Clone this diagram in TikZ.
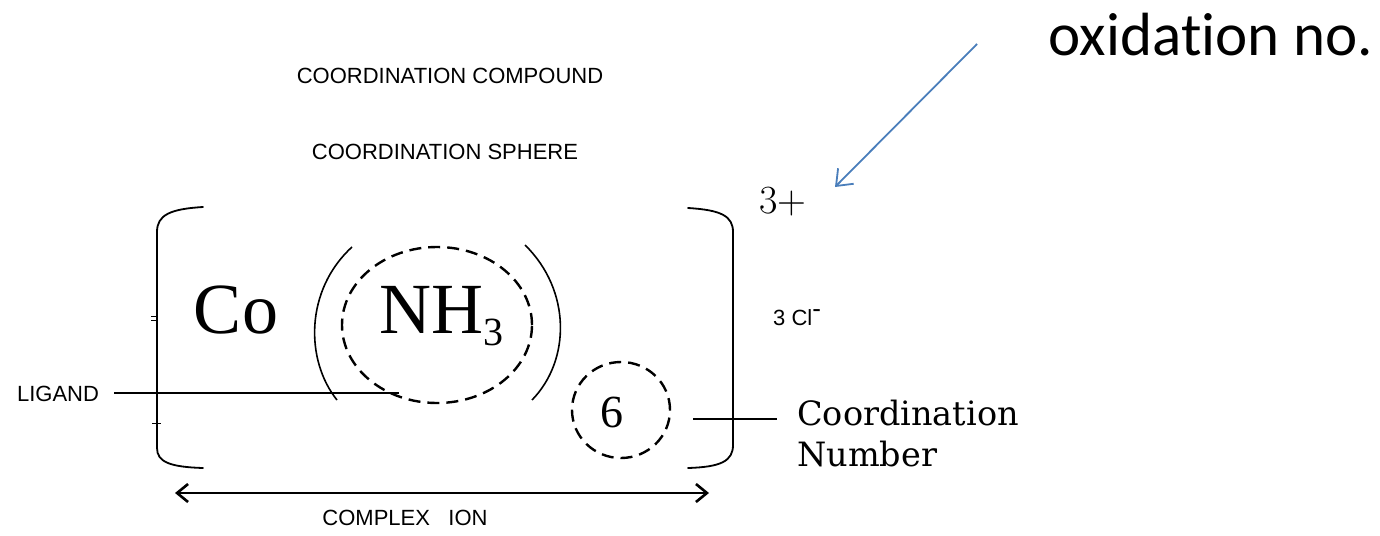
\documentclass[tikz,border=0pt]{standalone}
\usepackage{fontspec}
\newfontfamily\tnr{Liberation Serif}
\newfontfamily\arialf{Liberation Sans}
\newfontfamily\calib[RawFeature={-liga;-clig;-calt;-dlig}]{Carlito}
\newfontfamily\dejaser{DejaVu Serif}
\usetikzlibrary{shapes.geometric,arrows.meta}
\definecolor{oxblue}{HTML}{4A7EBB}
\begin{document}
\begin{tikzpicture}[x=1pt,y=-1pt,
  caps/.style={font=\arialf\fontsize{22}{26}\selectfont, inner sep=0pt},
  bigserif/.style={font=\tnr\fontsize{72}{80}\selectfont, inner sep=0pt},
  brk/.style={line width=1.8pt, line cap=round},
  conn/.style={line width=1.6pt},
  dashring/.style={draw, ellipse, line width=2.4pt, dash pattern=on 12pt off 7pt, inner sep=0pt}
]
\useasboundingbox (0,0) rectangle (1380,535);

% titles
\node[caps] (compound) at (450,76) {COORDINATION COMPOUND};
\node[caps] (sphere) at (445,152) {COORDINATION SPHERE};

% brackets
\draw[brk] (203,207) .. controls (170,209) and (157,215) .. (157,232) -- (157,448) .. controls (157,462) and (170,467) .. (203,468);
\draw[brk] (688,208) .. controls (721,210) and (733,216) .. (733,232) -- (733,445) .. controls (733,461) and (721,467) .. (688,468);
\draw[line width=1pt] (152,423) -- (161,423);
\draw[line width=0.8pt] (151,316) -- (156,316) (151,320) -- (156,320);

% parentheses
\draw[line width=1.6pt] (352,247) .. controls (305,290) and (305,360) .. (337,400);
\draw[line width=1.6pt] (525,245) .. controls (571,290) and (571,360) .. (532,400);

% formula
\node[bigserif, anchor=base] (co) at (236,333) {Co};
\node[bigserif, anchor=base west] (nh3) at (379,333) {NH\raisebox{-12pt}{\fontsize{40}{44}\selectfont 3}};
\node[dashring, minimum width=190pt, minimum height=156pt] (lig) at (437,325) {};
\node[dashring, minimum width=98pt, minimum height=96pt] (cnring) at (621,410) {};
\node[font=\tnr\fontsize{46}{50}\selectfont, inner sep=0pt, anchor=base] (six) at (612,427) {6};

% charge and counter ions
\node[font=\fontsize{40}{44}\selectfont, inner sep=0pt, anchor=base west] (charge) at (759,213) {3+};
\node[font=\arialf\fontsize{22}{26}\selectfont, inner sep=0pt, anchor=base west] (cl) at (773,325) {3 Cl\textsuperscript{\fontsize{26}{26}\selectfont -}};

% ligand label
\node[caps, anchor=center] (ligand) at (58,394) {LIGAND};
\coordinate (ligtip) at (399,393);
\path (ligand.east) ++(15,-1) coordinate (ligstart);
\draw[conn] (ligstart) -- (ligtip);

% coordination number label
\node[font=\dejaser\fontsize{33.5}{41}\selectfont, inner sep=0pt, align=left, anchor=north west] (cn) at (797,400) {Coordination\\Number};
\coordinate (cnstart) at (693,419);
\draw[conn] (cnstart) -- (777,419);

% complex ion
\coordinate (cil) at (175,493);
\coordinate (cir) at (709,493);
\draw[line width=2.6pt, {Straight Barb[length=11pt,width=18pt]}-{Straight Barb[length=11pt,width=18pt]}] (cil) -- (cir);
\node[caps] (complex) at (405,518) {COMPLEX\ \ \ ION};

% oxidation number
\node[font=\calib\fontsize{61}{70}\selectfont, inner sep=0pt, anchor=base] (ox) at (1211,56) {oxidat\kern0pt ion no.};
\coordinate (oxs) at (977,44);
\coordinate (oxt) at (835,187);
\draw[oxblue, line width=1.8pt, -{Straight Barb[length=14pt,width=22pt]}] (oxs) -- (oxt);
\end{tikzpicture}
\end{document}
